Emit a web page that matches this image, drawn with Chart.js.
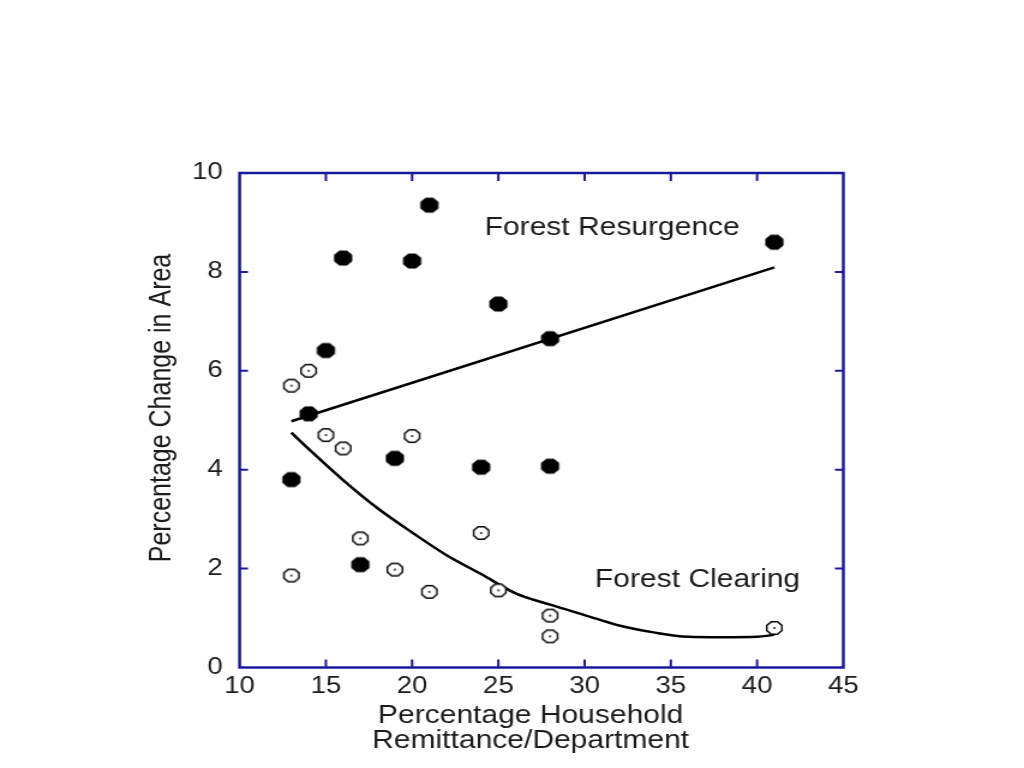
<!DOCTYPE html>
<html>
<head>
<script src="https://cdn.jsdelivr.net/npm/chart.js@4"></script>
<style>
  html, body { margin: 0; padding: 0; background: #fff; overflow: hidden; }
</style>
</head>
<body>
<!-- the source figure is stretched sideways, so the canvas is too -->
<canvas id="chart" width="853" height="768" style="display:block;width:1024px;height:768px;"></canvas>
<script>
const resurgenceX = [21, 16, 20, 25, 15, 28, 41, 14, 13, 19, 24, 28, 17];
const resurgenceY = [9.35, 8.28, 8.22, 7.35, 6.41, 6.65, 8.6, 5.13, 3.8, 4.23, 4.05, 4.07, 2.08];
const clearingX = [13, 14, 15, 16, 20, 17, 24, 13, 19, 21, 25, 28, 28, 41];
const clearingY = [5.7, 6.0, 4.7, 4.43, 4.68, 2.61, 2.72, 1.86, 1.98, 1.53, 1.56, 1.05, 0.63, 0.8];
const resurgenceFitX = [13, 41];
const resurgenceFitY = [4.98, 8.09];
const clearingFitX = [13, 14, 16, 18, 20, 22, 24, 26, 28, 30, 32, 34, 36, 38, 40, 41];
const clearingFitY = [4.75, 4.42, 3.79, 3.22, 2.73, 2.27, 1.89, 1.5, 1.27, 1.06, 0.85, 0.71, 0.62, 0.61, 0.62, 0.66];
const xTicks = [10, 15, 20, 25, 30, 35, 40, 45];
const yTicks = [0, 2, 4, 6, 8, 10];

const FONT = 'Liberation Sans, Arial, Helvetica, sans-serif';
const TEXT = '#1c1c1c';
const FRAME = '#1a1a9e';

function octagonPath(ctx, cx, cy, r) {
  ctx.beginPath();
  for (let i = 0; i < 8; i++) {
    const a = Math.PI / 8 + i * Math.PI / 4;
    const px = cx + r * Math.cos(a), py = cy + r * Math.sin(a);
    if (i === 0) ctx.moveTo(px, py); else ctx.lineTo(px, py);
  }
  ctx.closePath();
}

// filled octagon marker
const filledMark = document.createElement('canvas');
filledMark.width = 18; filledMark.height = 18;
(function () {
  const c = filledMark.getContext('2d');
  octagonPath(c, 9, 9, 8.2);
  c.fillStyle = '#000';
  c.fill();
})();

// open marker with a dot in the middle
const openMark = document.createElement('canvas');
openMark.width = 18; openMark.height = 18;
(function () {
  const c = openMark.getContext('2d');
  octagonPath(c, 9, 9, 6.8);
  c.fillStyle = '#fff';
  c.fill();
  c.lineWidth = 1.4;
  c.strokeStyle = '#000';
  c.stroke();
  c.beginPath();
  c.arc(9, 9, 0.9, 0, Math.PI * 2);
  c.fillStyle = '#000';
  c.fill();
})();

function pts(xs, ys) { return xs.map((x, i) => ({ x: x, y: ys[i] })); }

// blue box round the plot with inward tick marks
const framePlugin = {
  id: 'frame',
  afterDatasetsDraw(chart) {
    const ctx = chart.ctx, a = chart.chartArea;
    const xs = chart.scales.x, ys = chart.scales.y;
    ctx.save();
    ctx.strokeStyle = FRAME;
    ctx.lineWidth = 2;
    xs.ticks.forEach(t => {
      if (t.value === xs.min || t.value === xs.max) return;
      const px = xs.getPixelForValue(t.value);
      ctx.beginPath();
      ctx.moveTo(px, a.bottom); ctx.lineTo(px, a.bottom - 8);
      ctx.moveTo(px, a.top); ctx.lineTo(px, a.top + 8);
      ctx.stroke();
    });
    ys.ticks.forEach(t => {
      if (t.value === ys.min || t.value === ys.max) return;
      const py = ys.getPixelForValue(t.value);
      ctx.beginPath();
      ctx.moveTo(a.left, py); ctx.lineTo(a.left + 7, py);
      ctx.moveTo(a.right, py); ctx.lineTo(a.right - 7, py);
      ctx.stroke();
    });
    ctx.lineWidth = 2.5;
    ctx.strokeRect(a.left, a.top, a.right - a.left, a.bottom - a.top);
    ctx.restore();
  }
};

// axis titles and the two labels inside the plot
const textPlugin = {
  id: 'texts',
  afterDraw(chart) {
    const ctx = chart.ctx;
    const xs = chart.scales.x, ys = chart.scales.y;
    ctx.save();
    ctx.fillStyle = TEXT;
    ctx.font = '25px ' + FONT;
    ctx.textBaseline = 'middle';

    ctx.textAlign = 'left';
    ctx.fillText('Forest Resurgence', xs.getPixelForValue(24.2), ys.getPixelForValue(8.89));
    ctx.fillText('Forest Clearing', xs.getPixelForValue(30.6), ys.getPixelForValue(1.77));

    ctx.textAlign = 'center';
    ctx.fillText('Percentage Household', 442, 716);
    ctx.fillText('Remittance/Department', 442, 741);

    ctx.translate(135, 408);
    ctx.rotate(-Math.PI / 2);
    ctx.fillText('Percentage Change in Area', 0, 0);
    ctx.restore();
  }
};

new Chart(document.getElementById('chart'), {
  type: 'scatter',
  data: {
    datasets: [
      {
        label: 'Forest Resurgence',
        data: pts(resurgenceX, resurgenceY),
        pointStyle: filledMark
      },
      {
        label: 'Forest Clearing',
        data: pts(clearingX, clearingY),
        pointStyle: openMark
      },
      {
        type: 'line',
        label: 'Resurgence fit',
        data: pts(resurgenceFitX, resurgenceFitY),
        borderColor: '#000',
        borderWidth: 2.5,
        pointRadius: 0,
        fill: false
      },
      {
        type: 'line',
        label: 'Clearing fit',
        data: pts(clearingFitX, clearingFitY),
        borderColor: '#000',
        borderWidth: 2.5,
        pointRadius: 0,
        tension: 0.4,
        cubicInterpolationMode: 'monotone',
        fill: false
      }
    ]
  },
  options: {
    responsive: false,
    animation: false,
    events: [],
    layout: { padding: { top: 173, right: 150.5, left: 0, bottom: 0 } },
    plugins: { legend: { display: false }, tooltip: { enabled: false } },
    scales: {
      x: {
        type: 'linear',
        min: 10,
        max: 45,
        afterBuildTicks: s => { s.ticks = xTicks.map(v => ({ value: v })); },
        afterFit: s => { s.height = 100.5; },
        grid: { display: false, drawTicks: false },
        border: { display: false },
        ticks: { font: { family: FONT, size: 23 }, color: TEXT, padding: 5, maxRotation: 0 }
      },
      y: {
        type: 'linear',
        min: 0,
        max: 10,
        afterBuildTicks: s => { s.ticks = yTicks.map(v => ({ value: v })); },
        afterFit: s => { s.width = 199.6; },
        grid: { display: false, drawTicks: false },
        border: { display: false },
        ticks: { font: { family: FONT, size: 23 }, color: TEXT, padding: 14 }
      }
    }
  },
  plugins: [framePlugin, textPlugin]
});
</script>
</body>
</html>
